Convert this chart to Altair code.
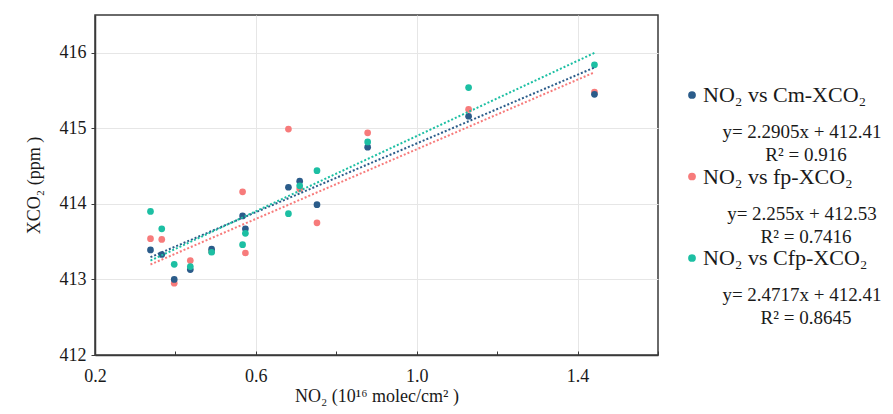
import altair as alt
import pandas as pd

# ---- data ----
no2 = [0.338, 0.366, 0.397, 0.437, 0.490, 0.567, 0.574, 0.681, 0.709, 0.752, 0.878, 1.129, 1.442]
cm_xco2 = [413.39, 413.33, 413.00, 413.13, 413.40, 413.84, 413.67, 414.22, 414.30, 413.99, 414.75, 415.16, 415.45]
fp_xco2 = [413.54, 413.53, 412.95, 413.25, 413.37, 414.16, 413.35, 414.99, 414.20, 413.75, 414.94, 415.25, 415.48]
cfp_xco2 = [413.90, 413.67, 413.20, 413.17, 413.36, 413.46, 413.61, 413.87, 414.24, 414.44, 414.82, 415.54, 415.84]

series_keys = ["Cm", "fp", "Cfp"]
series_names = ["NO₂ vs Cm-XCO₂", "NO₂ vs fp-XCO₂", "NO₂ vs Cfp-XCO₂"]
equations = ["y= 2.2905x + 412.41", "y= 2.255x + 412.53", "y= 2.4717x + 412.41"]
r_squared = ["R² = 0.916", "R² = 0.7416", "R² = 0.8645"]
point_colors = ["#2b5c8a", "#f77b7b", "#1cbfa3"]
trend_colors = ["#f77b7b", "#2b5c8a", "#1cbfa3"]  # trend-line colours as drawn in the figure

x_ticks = [0.2, 0.4, 0.6, 0.8, 1.0, 1.2, 1.4, 1.6]
y_ticks = [412, 412.5, 413, 413.5, 414, 414.5, 415, 415.5, 416]

FONT = "Liberation Serif, Times New Roman, DejaVu Serif, serif"

# long table, in drawing order (fp, Cm, Cfp)
values = {"Cm": cm_xco2, "fp": fp_xco2, "Cfp": cfp_xco2}
rows = []
for key in ["fp", "Cm", "Cfp"]:
    for xv, yv in zip(no2, values[key]):
        rows.append({"series": key, "no2": xv, "xco2": yv})
df = pd.DataFrame(rows)

legend_df = pd.DataFrame({"key": series_keys, "name": series_names,
                          "eq": equations, "r2": r_squared})

x_enc = alt.X("no2:Q", scale=alt.Scale(domain=[0.2, 1.6], nice=False, zero=False),
              axis=alt.Axis(values=x_ticks, format=".1f", labelFlush=False,
                            labelExpr="round(datum.value*10) % 4 == 2 ? datum.label : ''",
                            gridOpacity={"condition": {"test": "round(datum.value*10) % 4 == 2 && datum.value > 0.3", "value": 1}, "value": 0},
                            title="NO₂ (10¹⁶ molec/cm² )", tickSize={"expr": "-4"},
                            labelPadding=16, titlePadding=2))
y_enc = alt.Y("xco2:Q", scale=alt.Scale(domain=[412, 416.5], nice=False, zero=False),
              axis=alt.Axis(values=y_ticks, format="d", labelFlush=False,
                            labelExpr="datum.value % 1 == 0 ? datum.label : ''",
                            gridOpacity={"condition": {"test": "datum.value % 1 == 0", "value": 1}, "value": 0},
                            title="XCO₂ (ppm )", tickSize=4, labelPadding=5,
                            titlePadding=16))

points = alt.Chart(df).mark_circle(size=45, opacity=1).encode(
    x=x_enc, y=y_enc,
    color=alt.Color("series:N", scale=alt.Scale(domain=series_keys, range=point_colors), legend=None),
)

lines = alt.Chart(df).transform_regression(
    "no2", "xco2", groupby=["series"]
).mark_line(strokeDash=[2, 2], strokeWidth=2).encode(
    x="no2:Q", y="xco2:Q",
    color=alt.Color("series:N", scale=alt.Scale(domain=series_keys, range=trend_colors), legend=None),
)

legend_layers = []
for i, key in enumerate(series_keys):
    base = alt.Chart(legend_df).transform_filter(f"datum.key == '{key}'")
    y0 = 80 + i * 81.5
    legend_layers.append(base.mark_circle(size=60, opacity=1).encode(
        x=alt.value(597), y=alt.value(y0), color=alt.value(point_colors[i])))
    legend_layers.append(base.mark_text(align="left", baseline="middle", fontSize=22,
                                        font=FONT, color="#1a1a1a").encode(
        x=alt.value(608), y=alt.value(y0), text="name:N"))
    legend_layers.append(base.mark_text(align="center", baseline="middle", fontSize=19,
                                        font=FONT, color="#1a1a1a").encode(
        x=alt.value(707), y=alt.value(y0 + 37), text="eq:N"))
    legend_layers.append(base.mark_text(align="center", baseline="middle", fontSize=19,
                                        font=FONT, color="#1a1a1a").encode(
        x=alt.value(711), y=alt.value(y0 + 60), text="r2:N"))

chart = alt.layer(points, lines, *legend_layers).resolve_scale(color="independent").properties(
    width=563, height=340,
    autosize="none",
    padding={"left": 87, "top": 7, "right": 227, "bottom": 51},
).configure_view(
    stroke="#3a3a3a", strokeWidth=1.5
).configure_axis(
    labelFont=FONT, titleFont=FONT, labelFontSize=18, titleFontSize=18,
    labelColor="#1a1a1a", titleColor="#1a1a1a", titleFontWeight="normal",
    gridColor="#e6e6e6", gridWidth=1, domainColor="#3a3a3a", domainWidth=1.5,
    tickColor="#3a3a3a", tickWidth=1,
)

chart.save("out.html", embed_options={"renderer": "svg", "actions": False})
